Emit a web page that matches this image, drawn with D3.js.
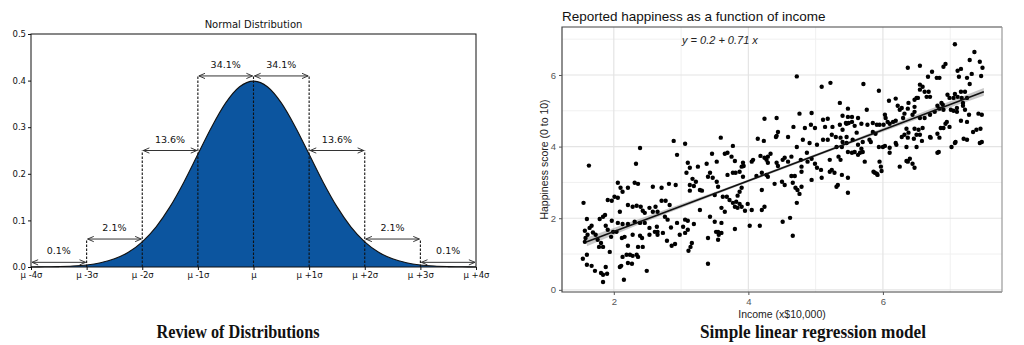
<!DOCTYPE html>
<html>
<head>
<meta charset="utf-8">
<script src="https://cdn.jsdelivr.net/npm/d3@7"></script>
<style>
html,body{margin:0;padding:0;background:#fff;}
svg{display:block;}
</style>
</head>
<body>
<svg id="chart" width="1024" height="345"></svg>
<script>
// ---------- LEFT: Normal distribution ----------
const sigmaTicks = [-4, -3, -2, -1, 0, 1, 2, 3, 4];
const sigmaLabels = ["μ -4σ", "μ -3σ", "μ -2σ", "μ -1σ", "μ", "μ +1σ", "μ +2σ", "μ +3σ", "μ +4σ"];
const densityTicks = [0, 0.1, 0.2, 0.3, 0.4, 0.5];
const pdfX = [-4, -3.75, -3.5, -3.25, -3, -2.75, -2.5, -2.25, -2, -1.75, -1.5, -1.25, -1, -0.75, -0.5, -0.25, 0,
              0.25, 0.5, 0.75, 1, 1.25, 1.5, 1.75, 2, 2.25, 2.5, 2.75, 3, 3.25, 3.5, 3.75, 4];
const pdfY = [0.0001, 0.0004, 0.0009, 0.0020, 0.0044, 0.0091, 0.0175, 0.0317, 0.0540, 0.0863, 0.1295, 0.1826, 0.2420, 0.3011, 0.3521, 0.3867, 0.3989,
              0.3867, 0.3521, 0.3011, 0.2420, 0.1826, 0.1295, 0.0863, 0.0540, 0.0317, 0.0175, 0.0091, 0.0044, 0.0020, 0.0009, 0.0004, 0.0001];
const bandFrom = [-4, -3, -2, -1, 0, 1, 2, 3];
const bandTo = [-3, -2, -1, 0, 1, 2, 3, 4];
const bandPct = ["0.1%", "2.1%", "13.6%", "34.1%", "34.1%", "13.6%", "2.1%", "0.1%"];
const bandLevel = [0.01, 0.06, 0.25, 0.41, 0.41, 0.25, 0.06, 0.01];
const guideX = [-3, -2, -1, 0, 1, 2, 3];
const guideTop = [0.06, 0.25, 0.41, 0.41, 0.41, 0.25, 0.06];

// ---------- RIGHT: regression ----------
const incomeTicks = [2, 4, 6];
const happyTicks = [0, 2, 4, 6];
const points = [
[2.39,3.96],[1.63,3.47],[2.33,3.52],[2.89,4.16],[3.06,4.08],[2.94,3.77],[3.1,3.55],[3.13,3.41],[3.25,3.44],[3.38,3.52],[3.46,3.8],[3.53,3.58],[3.08,3.27],[3.17,3.1],[3.22,3.02],[3.19,2.9],[3.28,2.79],[3.31,2.77],[3.13,2.93],[3.13,2.77],[3.43,3.27],[3.4,3.16],[3.47,3.13],[3.53,3.02],[2.06,2.99],[2.1,2.85],[2.13,2.74],[2.21,2.85],[2.31,2.99],[2.36,2.96],[2.58,2.88],[2.71,2.85],[2.82,2.96],[2.92,2.93],[1.91,2.51],[1.97,2.49],[2.01,2.6],[2.06,2.57],[1.55,2.43],[1.84,2.04],[1.79,1.98],[1.87,2.09],[1.6,1.98],[1.64,1.73],[1.57,1.65],[1.67,1.79],[1.61,1.54],[1.58,1.45],[2.21,2.37],[2.28,2.32],[2.34,2.35],[2.4,2.32],[2.43,2.21],[2.46,2.15],[2.53,2.29],[2.58,2.18],[2.62,2.32],[2.65,2.18],[2.71,2.49],[2.77,2.49],[2.83,2.37],[2.09,2.18],[1.97,1.93],[2.06,1.87],[2.13,1.84],[2.21,1.84],[2.31,1.9],[2.39,1.87],[2.46,1.87],[2.53,1.73],[2.64,1.76],[2.65,1.62],[2.76,2.04],[2.8,1.96],[2.85,1.74],[2.94,1.87],[3.03,1.76],[3.06,1.96],[3.1,1.93],[3.19,1.84],[2.79,1.37],[2.86,1.23],[2.91,1.28],[2.98,1.54],[3.06,1.59],[3.1,1.68],[3.16,1.31],[3.14,1.2],[3.11,1.09],[3.4,1.45],[3.52,1.62],[3.56,1.54],[3.4,0.73],[1.73,1.54],[1.76,1.4],[1.81,1.31],[1.84,1.2],[1.78,1.2],[1.54,0.87],[1.6,0.98],[1.6,0.7],[1.67,0.67],[1.72,0.53],[1.81,0.47],[1.84,0.42],[1.88,0.64],[1.9,0.45],[1.84,0.22],[1.94,1.06],[2.09,0.64],[2.11,0.67],[2.13,0.92],[2.19,0.98],[2.24,0.98],[2.28,0.95],[2.34,0.98],[2.36,0.92],[2.21,0.75],[2.27,0.73],[2.15,0.28],[2.49,0.53],[2.12,1.45],[2.16,1.48],[2.21,1.23],[2.28,1.54],[2.39,1.51],[2.42,1.45],[2.36,1.2],[2.43,1.2],[2.53,1.54],[1.96,1.48],[1.88,1.79],[1.91,1.68],[1.99,1.62],[2.04,1.62],[2.61,1.62],[2.65,1.54],[2.73,1.59],[3.28,2.23],[3.43,2.04],[3.5,1.9],[1.57,1.34],[1.69,1.6],
[4.72,5.96],[5.09,5.67],[5.22,5.78],[5.36,5.22],[5.48,5.06],[5.4,4.86],[5.48,4.83],[5.54,4.83],[5.45,4.66],[5.49,4.66],[5.63,4.8],[4.24,4.78],[4.42,4.8],[4.44,4.41],[4.42,4.3],[4.59,4.27],[4.67,4.55],[4.76,4.92],[4.94,4.94],[4.84,4.52],[4.93,4.61],[4.99,4.52],[5.11,4.75],[5.18,4.78],[5.14,4.55],[5.25,4.55],[5.3,4.27],[5.24,4.33],[5.18,4.19],[5.4,4.47],[5.37,4.25],[5.4,4.13],[5.46,4.27],[3.59,4.25],[4.14,4.22],[4.23,4.16],[3.77,4.02],[4.72,3.99],[3.65,3.8],[3.69,3.83],[3.75,3.72],[3.8,3.6],[3.92,3.55],[3.93,3.46],[4.05,3.58],[4.07,3.63],[4.18,3.74],[4.24,3.69],[4.27,3.63],[4.29,3.72],[4.33,3.8],[4.29,3.55],[4.42,3.55],[4.44,3.46],[4.51,3.63],[4.54,3.69],[4.59,3.58],[4.64,3.72],[4.78,3.63],[4.87,3.83],[4.88,3.58],[4.94,3.66],[4.99,3.52],[5.02,3.41],[5.08,3.35],[5.09,3.13],[4.94,3.07],[4.79,3.44],[4.79,3.3],[5.21,3.63],[5.24,3.35],[5.21,3.3],[5.28,3.27],[5.34,3.72],[5.37,3.63],[5.48,3.85],[5.54,3.83],[5.63,3.77],[5.33,2.93],[5.31,2.88],[5.39,3.21],[5.48,3.13],[5.48,2.71],[3.69,3.21],[3.77,3.27],[3.81,3.27],[3.87,3.3],[3.92,3.16],[3.9,3.44],[4.12,3.18],[4.2,3.27],[4.29,3.16],[4.27,3.21],[4.39,2.96],[4.5,3.02],[4.54,2.93],[4.64,3.18],[4.69,3.18],[4.66,2.99],[4.7,2.85],[4.73,2.79],[4.79,2.88],[4.76,2.68],[4.72,2.43],[4.2,2.79],[3.9,2.85],[3.87,2.74],[3.84,2.63],[3.72,2.51],[3.77,2.43],[3.82,2.46],[3.87,2.4],[3.8,2.32],[3.84,2.29],[3.9,2.32],[3.99,2.4],[4.05,2.23],[3.95,2.21],[4.2,2.23],[4.24,2.32],[3.62,2.6],[3.68,2.6],[3.6,2.29],[3.65,2.18],[3.5,2.65],[3.55,2.88],[3.6,1.87],[3.55,1.62],[3.6,1.59],[3.55,1.4],[3.8,1.7],[4.02,1.79],[4.17,1.79],[4.51,1.9],[4.62,2.01],[4.66,1.51],
[7.07,6.86],[7.36,6.64],[7.44,6.37],[7.48,6.2],[7.29,6.42],[7.11,6.12],[7.16,6.17],[7.13,5.95],[7.25,5.92],[7.32,6.03],[7.29,5.75],[7.22,5.53],[7.16,5.53],[7.11,5.39],[7.46,5.97],[6.93,6.31],[6.9,6.23],[6.73,6.09],[6.8,5.92],[6.84,5.92],[6.67,5.95],[6.37,6.2],[6.55,6.26],[5.71,5.75],[5.94,5.56],[6.55,5.73],[6.59,5.67],[6.55,5.59],[6.68,5.53],[6.65,5.39],[6.7,5.39],[6.5,5.36],[6.47,5.31],[6.52,5.36],[6.09,5.28],[6.19,5.34],[6.22,5.14],[6.28,5.08],[6.25,5.03],[6.38,5.22],[6.37,5.06],[6.47,5.11],[5.76,5.03],[5.68,4.64],[5.58,4.58],[5.77,4.61],[5.61,4.39],[5.85,4.66],[5.91,4.61],[5.95,4.61],[6.03,4.89],[6.04,4.8],[6.07,4.69],[6.1,4.64],[6.15,4.69],[6.19,4.72],[6.01,4.61],[6.3,4.8],[6.32,4.92],[6.44,4.89],[6.47,4.97],[6.55,4.8],[6.62,4.8],[6.7,4.89],[6.77,4.97],[6.84,5.06],[6.87,5.22],[6.89,5.17],[6.81,5.14],[6.9,5.03],[6.96,5.45],[6.99,5.36],[7.07,5.47],[7.05,5.36],[7.17,5.36],[7.19,5.22],[7.19,5.14],[7.25,5.36],[7.22,5.03],[7.01,5.03],[7.05,5.0],[7.1,4.97],[7.42,4.92],[7.47,4.89],[7.45,4.5],[7.47,4.13],[7.34,4.41],[7.25,4.69],[7.16,4.72],[7.08,4.13],[6.95,4.69],[6.93,4.64],[6.86,4.52],[6.81,4.36],[6.84,4.25],[6.71,4.25],[6.53,4.47],[6.5,4.33],[6.55,4.33],[6.58,4.16],[6.46,4.22],[7.2,4.22],[6.83,3.85],[6.28,4.27],[6.32,4.33],[6.37,4.25],[6.38,4.39],[6.35,4.5],[6.47,4.5],[6.2,4.05],[6.1,3.97],[6.0,3.99],[5.94,3.99],[5.82,4.13],[5.85,4.41],[5.89,4.36],[6.35,3.99],[6.5,3.99],[6.25,3.44],[6.37,3.58],[6.4,3.66],[6.35,3.6],[6.44,3.52],[6.47,3.41],[5.95,3.58],[5.97,3.44],[5.98,3.32],[5.86,3.3],[5.91,3.24],[5.63,4.05],[5.68,3.94],[5.66,3.83],[5.7,3.85],[5.73,3.58],[5.58,3.85],[5.7,4.13],
[6.62,5.53],[5.36,4.61],[5.46,4.64],[5.54,4.69],[4.41,4.27],[4.81,4.19],[4.91,4.1],[5.02,4.05],[5.11,4.19],[5.31,3.99],[5.39,3.99],[5.46,4.1],[5.55,4.19],[5.8,4.19],[6.03,4.02],[6.1,3.83],[6.19,4.1],[6.59,4.52],[6.7,4.27],[6.81,3.83],[6.9,4.52],[6.99,4.55],[7.1,5.08],[7.28,4.89],[7.39,4.47],[7.44,4.1],[7.25,4.19],[7.07,4.1],[7.02,3.99],[5.88,3.27],[5.92,3.21]
];
const fitX = [1.6, 7.5];
const fitY = [1.34, 5.53];
const ribbonX = [1.6, 2.5, 3.5, 4.5, 5.5, 6.5, 7.5];
const ribbonLo = [1.22, 1.92, 2.65, 3.36, 4.07, 4.76, 5.42];
const ribbonHi = [1.46, 2.06, 2.73, 3.44, 4.15, 4.90, 5.64];

const svg = d3.select("#chart");

// ================= LEFT CHART =================
const xL = d3.scaleLinear().domain([-4, 4]).range([31, 476]);
const yL = d3.scaleLinear().domain([0, 0.5]).range([267, 34]);
const gL = svg.append("g").attr("font-family", "DejaVu Sans, sans-serif");

const defs = svg.append("defs");
function marker(id, orient) {
  defs.append("marker").attr("id", id).attr("viewBox", "0 0 8 8")
    .attr("refX", 7.5).attr("refY", 4).attr("markerWidth", 7).attr("markerHeight", 7)
    .attr("markerUnits", "userSpaceOnUse").attr("orient", orient)
    .append("path").attr("d", "M0.5,1 L7.5,4 L0.5,7").attr("fill", "none")
    .attr("stroke", "#333").attr("stroke-width", 1.1);
}
marker("arrEnd", "auto");
marker("arrStart", "auto-start-reverse");

const pdfData = pdfX.map((x, i) => [x, pdfY[i]]);
const area = d3.area().x(d => xL(d[0])).y0(yL(0)).y1(d => yL(d[1])).curve(d3.curveMonotoneX);
const line = d3.line().x(d => xL(d[0])).y(d => yL(d[1])).curve(d3.curveMonotoneX);
gL.append("path").datum(pdfData).attr("d", area).attr("fill", "#0c559f");

// dashed guides
gL.selectAll("line.guide").data(guideX).join("line")
  .attr("x1", d => xL(d)).attr("x2", d => xL(d))
  .attr("y1", yL(0)).attr("y2", (d, i) => yL(guideTop[i]))
  .attr("stroke", "#111").attr("stroke-width", 1.1).attr("stroke-dasharray", "2.5,1.5");

gL.append("path").datum(pdfData).attr("d", line).attr("fill", "none").attr("stroke", "#111").attr("stroke-width", 1.1);

// arrows
gL.selectAll("line.arr").data(bandFrom).join("line")
  .attr("x1", (d, i) => xL(d) + 1).attr("x2", (d, i) => xL(bandTo[i]) - 1)
  .attr("y1", (d, i) => yL(bandLevel[i])).attr("y2", (d, i) => yL(bandLevel[i]))
  .attr("stroke", "#333").attr("stroke-width", 1)
  .attr("marker-start", "url(#arrStart)").attr("marker-end", "url(#arrEnd)");
gL.selectAll("text.pct").data(bandFrom).join("text")
  .attr("x", (d, i) => xL((d + bandTo[i]) / 2))
  .attr("y", (d, i) => yL(bandLevel[i]) - 8)
  .attr("text-anchor", "middle").attr("font-size", 9.5).attr("fill", "#111")
  .text((d, i) => bandPct[i]);

// frame
gL.append("rect").attr("x", xL(-4)).attr("y", yL(0.5)).attr("width", xL(4) - xL(-4)).attr("height", yL(0) - yL(0.5))
  .attr("fill", "none").attr("stroke", "#111").attr("stroke-width", 1);

const axL = gL.append("g").attr("transform", `translate(${xL(-4)},0)`)
  .call(d3.axisLeft(yL).tickValues(densityTicks).tickFormat(d3.format(".1f")).tickSize(3).tickPadding(2));
const axB = gL.append("g").attr("transform", `translate(0,${yL(0)})`)
  .call(d3.axisBottom(xL).tickValues(sigmaTicks).tickFormat((d, i) => sigmaLabels[i]).tickSize(3).tickPadding(2));
[axL, axB].forEach(a => {
  a.select(".domain").remove();
  a.selectAll("line").attr("stroke", "#111");
  a.selectAll("text").attr("font-size", 8.5).attr("fill", "#111").attr("font-family", "DejaVu Sans, sans-serif");
});

gL.append("text").attr("x", (xL(-4) + xL(4)) / 2).attr("y", 28).attr("text-anchor", "middle")
  .attr("font-size", 10).attr("fill", "#111").text("Normal Distribution");

// ================= RIGHT CHART =================
const xR = d3.scaleLinear().domain([1.23, 7.77]).range([562, 1002]);
const yR = d3.scaleLinear().domain([-0.06, 7.34]).range([292, 27]);
const gR = svg.append("g").attr("font-family", "Liberation Sans, Arial, sans-serif");

const minorX = [3, 5, 7], minorY = [1, 3, 5, 7];
gR.selectAll("line.mx").data(minorX).join("line")
  .attr("x1", d => xR(d)).attr("x2", d => xR(d)).attr("y1", yR.range()[0]).attr("y2", yR.range()[1])
  .attr("stroke", "#f0f0f0").attr("stroke-width", 1);
gR.selectAll("line.my").data(minorY).join("line")
  .attr("y1", d => yR(d)).attr("y2", d => yR(d)).attr("x1", xR.range()[0]).attr("x2", xR.range()[1])
  .attr("stroke", "#f0f0f0").attr("stroke-width", 1);
gR.selectAll("line.Mx").data(incomeTicks).join("line")
  .attr("x1", d => xR(d)).attr("x2", d => xR(d)).attr("y1", yR.range()[0]).attr("y2", yR.range()[1])
  .attr("stroke", "#e4e4e4").attr("stroke-width", 1.2);
gR.selectAll("line.My").data(happyTicks).join("line")
  .attr("y1", d => yR(d)).attr("y2", d => yR(d)).attr("x1", xR.range()[0]).attr("x2", xR.range()[1])
  .attr("stroke", "#e4e4e4").attr("stroke-width", 1.2);

// ribbon
const ribbon = d3.area().x((d, i) => xR(ribbonX[i])).y0((d, i) => yR(ribbonLo[i])).y1((d, i) => yR(ribbonHi[i])).curve(d3.curveMonotoneX);
gR.append("path").datum(ribbonX).attr("d", ribbon).attr("fill", "#9a9a9a").attr("opacity", 0.55);

// points
gR.selectAll("circle").data(points).join("circle")
  .attr("cx", d => xR(d[0])).attr("cy", d => yR(d[1])).attr("r", 2.2).attr("fill", "#000");

// fit line
gR.append("line").attr("x1", xR(fitX[0])).attr("x2", xR(fitX[1])).attr("y1", yR(fitY[0])).attr("y2", yR(fitY[1]))
  .attr("stroke", "#111").attr("stroke-width", 1.6);

// border
const [rx0, rx1] = xR.range(), [ry0, ry1] = yR.range();
gR.append("path").attr("d", `M${rx1},${ry1} L${rx0},${ry1} L${rx0},${ry0} L${rx1},${ry0}`).attr("fill", "none").attr("stroke", "#444").attr("stroke-width", 1.2);
gR.append("line").attr("x1", rx1).attr("x2", rx1).attr("y1", ry1).attr("y2", ry0).attr("stroke", "#999").attr("stroke-width", 1.2);

const axRx = gR.append("g").attr("transform", `translate(0,${ry0})`)
  .call(d3.axisBottom(xR).tickValues(incomeTicks).tickFormat(d3.format("d")).tickSize(3).tickPadding(3));
const axRy = gR.append("g").attr("transform", `translate(${rx0},0)`)
  .call(d3.axisLeft(yR).tickValues(happyTicks).tickFormat(d3.format("d")).tickSize(3).tickPadding(3));
[axRx, axRy].forEach(a => {
  a.select(".domain").remove();
  a.selectAll("line").attr("stroke", "#555");
  a.selectAll("text").attr("font-size", 9.5).attr("fill", "#555").attr("font-family", "Liberation Sans, Arial, sans-serif");
});

gR.append("text").attr("x", 562).attr("y", 21).attr("font-size", 13.5).attr("fill", "#111")
  .text("Reported happiness as a function of income");
gR.append("text").attr("x", 682).attr("y", 44).attr("font-size", 11).attr("font-style", "italic").attr("fill", "#222")
  .text("y = 0.2 + 0.71 x");
gR.append("text").attr("x", (rx0 + rx1) / 2).attr("y", 318).attr("text-anchor", "middle")
  .attr("font-size", 10.5).attr("fill", "#222").text("Income (x$10,000)");
gR.append("text").attr("transform", `translate(548,${(ry0 + ry1) / 2}) rotate(-90)`).attr("text-anchor", "middle")
  .attr("font-size", 10.5).attr("fill", "#222").text("Happiness score (0 to 10)");

// ================= CAPTIONS =================
svg.append("text").attr("x", 238).attr("y", 338).attr("text-anchor", "middle")
  .attr("font-family", "Liberation Serif, DejaVu Serif, serif").attr("font-weight", "bold").attr("font-size", 19)
  .attr("textLength", 163).attr("lengthAdjust", "spacingAndGlyphs").attr("fill", "#111")
  .text("Review of Distributions");
svg.append("text").attr("x", 813).attr("y", 338).attr("text-anchor", "middle")
  .attr("font-family", "Liberation Serif, DejaVu Serif, serif").attr("font-weight", "bold").attr("font-size", 19)
  .attr("textLength", 226).attr("lengthAdjust", "spacingAndGlyphs").attr("fill", "#111")
  .text("Simple linear regression model");
</script>
</body>
</html>
